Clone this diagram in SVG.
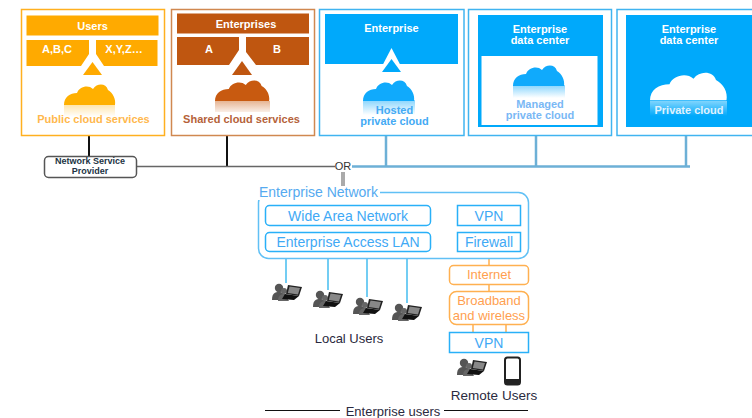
<svg xmlns="http://www.w3.org/2000/svg" width="752" height="418" viewBox="0 0 752 418">
<style>
text{font-family:"Liberation Sans",Arial,sans-serif;text-anchor:middle}
.w{fill:#fff;font-size:11px;font-weight:bold}
.box{fill:#fff;stroke-width:1.5}
.o{stroke:#ffb020}.br{stroke:#d08850}.bl{stroke:#40b4f0}
.lb{fill:#3fa9f5;font-size:14px}
.or{fill:#ff9f50;font-size:13px}
.k{fill:#2a2a40;font-size:13px}
.cap{font-size:11px;font-weight:bold}
.cb{fill:#fff;stroke:#29b0f8;stroke-width:1.5}
.co{fill:#fff;stroke:#ffb050;stroke-width:1.5}
.ln{stroke:#45bdf0;stroke-width:1.5;fill:none}
.ol{stroke:#ffb050;stroke-width:1.5;fill:none}
.st{stroke:#6db0d6;stroke-width:2.5;fill:none}
</style>
<defs>
<path id="c" d="M0 21C0 13 6 9 13 9C15 3 24 0 29 5C33 -1 42 -1 44 6C49 9 52 15 51 21Z"/>
<linearGradient id="fo" x1="0" y1="0" x2="0" y2="1"><stop offset="0" stop-color="#ffb000" stop-opacity=".35"/><stop offset="1" stop-color="#ffb000" stop-opacity="0"/></linearGradient>
<linearGradient id="fr" x1="0" y1="0" x2="0" y2="1"><stop offset="0" stop-color="#c85a10" stop-opacity=".45"/><stop offset="1" stop-color="#c85a10" stop-opacity=".1"/></linearGradient>
<linearGradient id="fb" x1="0" y1="0" x2="0" y2="1"><stop offset="0" stop-color="#10aafc" stop-opacity=".5"/><stop offset="1" stop-color="#10aafc" stop-opacity="0"/></linearGradient>
<linearGradient id="fw" x1="0" y1="0" x2="0" y2="1"><stop offset="0" stop-color="#fff" stop-opacity=".5"/><stop offset="1" stop-color="#fff" stop-opacity="0"/></linearGradient>
<g id="u">
<circle cx="7" cy="5" r="4.2" fill="#555"/><path d="M0 17C0 10 3 9 7 9C11 9 13 11 14 17Z" fill="#555"/>
<circle cx="12" cy="8" r="3" fill="#666"/><path d="M6 18C6 12 9 11 13 11L17 18Z" fill="#666"/>
<path d="M16 2L30 4L27 13L14 11Z" fill="#222"/><path d="M17.500 3.500L28 5L26 11.500L15.800 10Z" fill="#888"/><path d="M13 11L27 13L22 17L10 16Z" fill="#111"/>
</g>
</defs>
<g id="connectors">
<path d="M89 135V157M227 135V166" stroke="#111" stroke-width="2" fill="none"/>
<path d="M136 166.500H335" stroke="#666" stroke-width="1.500" fill="none"/>
<path d="M352 166.500H690M386 135V166M536 135V166M686 135V166" class="st"/>
<path d="M343 172V186" stroke="#aaa" stroke-width="4" fill="none"/>
<path d="M286 252V283M328 252V290M367 252V297M407 252V303" class="ln"/>
<path d="M489 252V265M489 284V291M473 324V332M506 324V332" class="ol"/>
<path d="M265 410.500H340M444 410.500H528" stroke="#111" stroke-width="1"/>
</g>
<g id="users">
<rect class="box o" x="21.500" y="9.500" width="143" height="126"/>
<rect x="26.500" y="15.500" width="132" height="20" fill="#ffaa00"/>
<path d="M26.500 40H89V54L81 66H26.500ZM96 40H157.500V66H104L96 54Z" fill="#ffaa00"/>
<path d="M92.500 62L102 75H83Z" fill="#ffaa00"/>
<text class="w" x="92.500" y="29.500">Users</text><text class="w" x="57" y="53">A,B,C</text><text class="w" x="124" y="53">X,Y,Z…</text>
<use href="#c" x="64" y="84" fill="#ffb000"/><rect x="64" y="104" width="51" height="13" fill="url(#fo)"/>
<text class="cap" x="93.500" y="123" fill="#ffb84d">Public cloud services</text>
</g>
<g id="shared">
<rect class="box br" x="171.500" y="9.500" width="143" height="126"/>
<rect x="177" y="13.500" width="132" height="20" fill="#bf5610"/>
<path d="M177 37H239V50L229 65H177ZM246 37H309V65H256L246 52Z" fill="#bf5610"/>
<path d="M242 61L252 75H232Z" fill="#bf5610"/>
<text class="w" x="246" y="28">Enterprises</text><text class="w" x="209" y="53">A</text><text class="w" x="277" y="53">B</text>
<use href="#c" transform="translate(215 80) scale(1.060 1)" fill="#c85a10"/><rect x="215" y="101" width="55" height="11" fill="url(#fr)"/>
<text class="cap" x="241.500" y="123" fill="#b5623a">Shared cloud services</text>
</g>
<g id="hosted">
<rect class="box bl" x="319.500" y="9.500" width="144.500" height="126"/>
<rect x="325" y="14" width="133" height="50" fill="#00a9fb"/>
<path d="M391.500 48L404 72H379Z" fill="#fff"/><path d="M391.500 59L401 72H382Z" fill="#00a9fb"/>
<text class="w" x="391.500" y="32">Enterprise</text>
<use href="#c" x="363" y="80" fill="#10aafc"/><rect x="363" y="100" width="52" height="15" fill="url(#fb)"/>
<text class="cap" x="394.500" y="114" fill="#44aaf4">Hosted</text>
<text class="cap" x="394.500" y="125" fill="#44aaf4">private cloud</text>
</g>
<g id="managed">
<rect class="box bl" x="468.500" y="9.500" width="143" height="126"/>
<rect x="478" y="15" width="125" height="112" fill="#00a9fb"/>
<rect x="481.500" y="56" width="116" height="69" fill="#fff"/>
<text class="w" x="540" y="33">Enterprise</text><text class="w" x="540" y="44">data center</text>
<use href="#c" x="513" y="65" fill="#10aafc"/><rect x="513" y="85" width="52" height="13" fill="url(#fb)"/>
<text class="cap" x="540" y="108" fill="#7ab8f5">Managed</text>
<text class="cap" x="540" y="119" fill="#7ab8f5">private cloud</text>
</g>
<g id="private">
<rect class="box bl" x="617" y="9.500" width="140" height="126"/>
<rect x="626" y="15" width="126" height="112" fill="#00a9fb"/>
<text class="w" x="689" y="33">Enterprise</text><text class="w" x="689" y="44">data center</text>
<use href="#c" transform="translate(650 72) scale(1.500 1.350)" fill="#fff"/><rect x="650" y="101" width="77" height="15" fill="url(#fw)"/>
<text class="cap" x="689" y="114" fill="#dff2ff">Private cloud</text>
</g>
<g id="nsp">
<rect x="44.500" y="156.500" width="92" height="21" rx="4" fill="#fff" stroke="#555" stroke-width="1.500"/>
<text x="90" y="163.500" font-size="9" font-weight="bold" fill="#234">Network Service</text><text x="90" y="173.500" font-size="9" font-weight="bold" fill="#234">Provider</text>
</g>
<g id="or"><text x="343" y="170" font-size="11" fill="#333">OR</text></g>
<g id="enterprise-network">
<rect x="258.500" y="192.500" width="270" height="66" rx="10" fill="#fff" stroke="#60c0f5" stroke-width="1.500"/>
<rect x="258" y="186" width="122" height="14" fill="#fff"/>
<text x="318.500" y="197" font-size="14" fill="#55aaf0">Enterprise Network</text>
</g>
<g id="wan"><rect class="cb" x="265.500" y="205.500" width="165" height="20" rx="4"/><text class="lb" x="348" y="220.500">Wide Area Network</text></g>
<g id="lan"><rect class="cb" x="265.500" y="232.500" width="165" height="19" rx="4"/><text class="lb" x="348" y="246.500">Enterprise Access LAN</text></g>
<g id="vpn1"><rect class="cb" x="457.500" y="205.500" width="63" height="20"/><text class="lb" x="489" y="220.500">VPN</text></g>
<g id="firewall"><rect class="cb" x="457.500" y="232.500" width="63" height="19"/><text class="lb" x="489" y="246.500">Firewall</text></g>
<g id="internet"><rect class="co" x="449.500" y="265.500" width="79" height="19" rx="4"/><text class="or" x="489" y="279">Internet</text></g>
<g id="broadband"><rect class="co" x="449.500" y="291.500" width="79" height="33" rx="7"/><text class="or" x="489" y="304.500">Broadband</text><text class="or" x="489" y="319.500">and wireless</text></g>
<g id="vpn2"><rect class="cb" x="449.500" y="332.500" width="79" height="20"/><text class="lb" x="489" y="348">VPN</text></g>
<g id="local-users">
<use href="#u" x="272" y="283"/><use href="#u" x="313" y="290"/><use href="#u" x="353" y="297"/><use href="#u" x="392" y="303"/>
<text class="k" x="349" y="343">Local Users</text>
</g>
<g id="remote-users">
<use href="#u" x="457" y="358"/>
<rect x="505" y="357.500" width="15" height="27" rx="2.500" fill="#fff" stroke="#222" stroke-width="2"/>
<rect x="505" y="379" width="15" height="5" fill="#222"/>
<text class="k" x="494" y="400" font-size="13.500" style="font-size:13.500px">Remote Users</text>
</g>
<g id="enterprise-users"><text class="k" x="393" y="416">Enterprise users</text></g>
</svg>
